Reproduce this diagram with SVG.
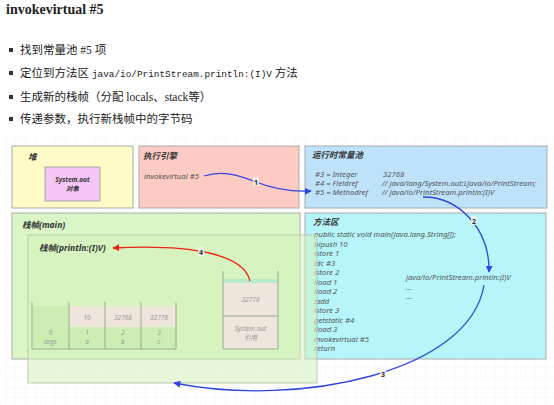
<svg xmlns="http://www.w3.org/2000/svg" width="554" height="405" viewBox="0 0 554 405">
<defs>
<pattern id="grid" x="5" y="137" width="10" height="10" patternUnits="userSpaceOnUse">
<path d="M10 0 L0 0 L0 10" fill="none" stroke="#ececec" stroke-width="0.6"/>
</pattern>
<marker id="ab" viewBox="0 0 10 10" refX="9" refY="5" markerWidth="7" markerHeight="7" markerUnits="userSpaceOnUse" orient="auto">
<path d="M0 0 L10 5 L0 10 z" fill="#2f45e0"/>
</marker>
<marker id="ar" viewBox="0 0 10 10" refX="9" refY="5" markerWidth="7" markerHeight="7" markerUnits="userSpaceOnUse" orient="auto">
<path d="M0 0 L10 5 L0 10 z" fill="#ee2211"/>
</marker>
</defs>
<style>
.t{font-family:"Liberation Serif","Noto Sans CJK SC",serif;font-size:11.5px;fill:#222}
.m{font-family:"Liberation Mono","Noto Sans CJK SC",monospace;font-size:9.4px}
.h{font-family:"Liberation Serif",serif;font-size:14px;font-weight:bold;fill:#222}
.box{stroke:#a9a9a9;stroke-width:1}
.ti{font-family:"Noto Sans","Noto Sans CJK SC",sans-serif;font-size:8.5px;font-weight:bold;font-style:italic;fill:#333}
.d{font-family:"Noto Sans","Noto Sans CJK SC",sans-serif;font-size:7.7px;font-style:italic;fill:#555}
.g{font-family:"Noto Sans","Noto Sans CJK SC",sans-serif;font-size:6.5px;font-style:italic;fill:#999;text-anchor:middle}
.lb{font-family:"Noto Sans",sans-serif;font-size:7px;font-weight:bold;fill:#333;text-anchor:middle}
.cw{fill:#f3f3ee;opacity:0.85}
.wall{fill:none;stroke:#9aa98e;stroke-width:1}
</style>
<rect width="554" height="405" fill="#ffffff"/>
<rect x="5" y="137" width="549" height="268" fill="url(#grid)"/>

<text class="h" x="6" y="14">invokevirtual #5</text>
<g id="bullets">
<rect x="9" y="48" width="4" height="4" fill="#333"/>
<text class="t" x="20" y="54">找到常量池 #5 项</text>
<rect x="9" y="71" width="4" height="4" fill="#333"/>
<text class="t" x="20" y="77">定位到方法区 <tspan class="m">java/io/PrintStream.println:(I)V</tspan> 方法</text>
<rect x="9" y="95" width="4" height="4" fill="#333"/>
<text class="t" x="20" y="101">生成新的栈帧（分配 locals、stack等）</text>
<rect x="9" y="117" width="4" height="4" fill="#333"/>
<text class="t" x="20" y="123">传递参数，执行新栈帧中的字节码</text>
</g>

<g id="heap">
<rect class="box" x="12" y="146" width="121" height="62" fill="#fdfcc6"/>
<text class="ti" x="28" y="160">堆</text>
<rect class="box" x="45" y="167" width="55" height="34" fill="#f5c6f5"/>
<text class="ti" style="font-size:6.5px" x="72.5" y="182" text-anchor="middle">System.out</text>
<text class="ti" style="font-size:6.5px" x="72.5" y="191" text-anchor="middle">对象</text>
</g>

<g id="engine">
<rect class="box" x="139" y="146" width="160" height="62" fill="#fdcbc3"/>
<text class="ti" x="143" y="159">执行引擎</text>
<text class="d" x="144" y="179">invokevirtual #5</text>
</g>

<g id="constpool">
<rect class="box" x="305" y="146" width="242" height="62" fill="#bfe2fb"/>
<text class="ti" x="312" y="158">运行时常量池</text>
<text class="d" x="315" y="177">#3 = Integer</text>
<text class="d" x="383" y="177">32768</text>
<text class="d" x="315" y="186">#4 = Fieldref</text>
<text class="d" x="382" y="186">// java/lang/System.out:Ljava/io/PrintStream;</text>
<text class="d" x="315" y="195">#5 = Methodref</text>
<text class="d" x="382" y="195">// java/io/PrintStream.println:(I)V</text>
</g>

<g id="mainframe">
<rect class="box" x="12" y="213" width="288" height="146" fill="#dbf6c6"/>
<text class="ti" x="22" y="228">栈帧(main)</text>
</g>

<g id="methodarea">
<rect class="box" x="305" y="213" width="241" height="146" fill="#b6f5fa"/>
<text class="ti" x="313" y="225">方法区</text>
<text class="d" x="314" y="237">public static void main(java.lang.String[]);</text>
<text class="d" x="314" y="246.5">bipush 10</text>
<text class="d" x="314" y="256">istore 1</text>
<text class="d" x="314" y="265.5">ldc #3</text>
<text class="d" x="314" y="275">istore 2</text>
<text class="d" x="314" y="284.5">iload 1</text>
<text class="d" x="314" y="294">iload 2</text>
<text class="d" x="314" y="303.5">iadd</text>
<text class="d" x="314" y="313">istore 3</text>
<text class="d" x="314" y="322.5">getstatic #4</text>
<text class="d" x="314" y="332">iload 3</text>
<text class="d" x="314" y="341.5">invokevirtual #5</text>
<text class="d" x="314" y="351">return</text>
<text class="d" x="406" y="280">java/io/PrintStream.println:(I)V</text>
<text class="d" x="406" y="290">...</text>
<text class="d" x="406" y="299">...</text>
</g>

<g id="printlnframe">
<rect x="28" y="235" width="289" height="148" fill="#d4f2bc" fill-opacity="0.55" stroke="#b9c9ab" stroke-width="1"/>
<text class="ti" x="39" y="251">栈帧(println:(I)V)</text>
</g>

<g id="locals">
<rect x="33" y="306" width="36" height="42" fill="#cdeeb2"/>
<rect x="69" y="306" width="107" height="21" fill="#eee6da"/>
<rect x="69" y="327" width="107" height="21" fill="#cdeeb2"/>
<path class="wall" d="M32 302 V349 H176 V302 M69 302 V349 M105 302 V349 M141 302 V349"/>
<text class="g" x="87" y="320">10</text>
<text class="g" x="123" y="320">32768</text>
<text class="g" x="159" y="320">32778</text>
<text class="g" x="50.5" y="335">0</text>
<text class="g" x="50.5" y="344">args</text>
<text class="g" x="87" y="335">1</text>
<text class="g" x="87" y="344">a</text>
<text class="g" x="123" y="335">2</text>
<text class="g" x="123" y="344">b</text>
<text class="g" x="159" y="335">3</text>
<text class="g" x="159" y="344">c</text>
</g>

<g id="opstack">
<rect x="223" y="279" width="55" height="4" fill="#b5ebc9"/>
<rect x="223" y="283" width="55" height="66" fill="#ede6da"/>
<path class="wall" d="M223 316 H278"/>
<path class="wall" d="M223 271 V349 H278 V271"/>
<text class="g" x="250.5" y="302">32778</text>
<text class="g" x="250.5" y="331">System.out</text>
<text class="g" x="250.5" y="340">引用</text>
</g>

<g id="connectors" fill="none" stroke-width="1.3">
<path d="M204 176 C222 170 238 175 256 182 S292 192 311 191" stroke="#2f45e0" marker-end="url(#ab)"/>
<path d="M423 197 C460 197 490 230 489 272" stroke="#2f45e0" marker-end="url(#ab)"/>
<path d="M484 285 C470 372 300 408 174 383" stroke="#2f45e0" marker-end="url(#ab)"/>
<path d="M250 281 C244 255 195 244 113 248" stroke="#ee2211" marker-end="url(#ar)"/>
<rect class="cw" x="253" y="177" width="6" height="9"/>
<text class="lb" x="256" y="184.5">1</text>
<rect class="cw" x="471" y="216" width="6" height="9"/>
<text class="lb" x="474" y="223.5">2</text>
<rect class="cw" x="380" y="369" width="6" height="9"/>
<text class="lb" x="383" y="376.5">3</text>
<rect class="cw" x="198" y="247" width="6" height="9"/>
<text class="lb" x="201" y="254.5">4</text>
</g>
</svg>
